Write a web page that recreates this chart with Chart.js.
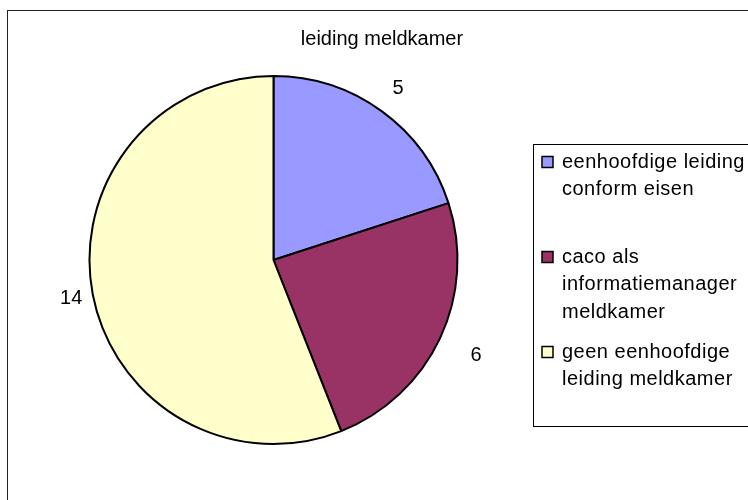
<!DOCTYPE html>
<html>
<head>
<meta charset="utf-8">
<script src="https://cdn.jsdelivr.net/npm/chart.js@4.4.0/dist/chart.umd.min.js"></script>
<style>
  html, body { margin: 0; padding: 0; background: #fff; width: 748px; height: 500px; overflow: hidden; }
  #frame { position: absolute; left: 7px; top: 10px; width: 748px; height: 500px; border: 1px solid #222; }
</style>
</head>
<body>
<div id="frame"><canvas id="mycanvas" width="748" height="500"></canvas></div>
<script>
var title = 'leiding meldkamer';
var labels = [
	['eenhoofdige leiding', 'conform eisen'],
	['caco als', 'informatiemanager', 'meldkamer'],
	['geen eenhoofdige', 'leiding meldkamer']
];
var values = [5, 6, 14];
var colors = ['#9999FF', '#993366', '#FFFFCC'];

var font = '20px "Liberation Sans", Arial, sans-serif';
// distance of each value label outside the pie edge (Excel "outside end")
var labelGap = [28, 40, 22];

// title, value labels and the boxed legend, drawn like the Excel original
var excelBits = {
	id: 'excelBits',
	afterDraw: function(chart) {
		var ctx = chart.ctx;
		ctx.save();
		ctx.font = font;
		ctx.fillStyle = '#000';
		ctx.textAlign = 'center';
		ctx.textBaseline = 'middle';
		ctx.fillText(title, chart.width / 2, 28);

		// value labels outside the slices
		var meta = chart.getDatasetMeta(0);
		meta.data.forEach(function(arc, i) {
			var p = arc.getProps(['x', 'y', 'startAngle', 'endAngle', 'outerRadius'], true);
			var mid = (p.startAngle + p.endAngle) / 2;
			var r = p.outerRadius + labelGap[i];
			ctx.fillText(String(chart.data.datasets[0].data[i]), p.x + Math.cos(mid) * r, p.y + Math.sin(mid) * r);
		});

		// legend box
		ctx.strokeStyle = '#000';
		ctx.lineWidth = 1;
		ctx.strokeRect(525.5, 133.5, 260, 282);
		ctx.textAlign = 'left';
		ctx.letterSpacing = '0.5px';
		chart.data.labels.forEach(function(lines, i) {
			var y = 151 + i * 95;
			ctx.fillStyle = chart.data.datasets[0].backgroundColor[i];
			ctx.fillRect(534, y - 5.5, 11, 11);
			ctx.lineWidth = 1.5;
			ctx.strokeRect(534, y - 5.5, 11, 11);
			ctx.fillStyle = '#000';
			lines.forEach(function(line, j) {
				ctx.fillText(line, 554, y + j * 27.5);
			});
		});
		ctx.restore();
	}
};

var ctx = document.getElementById('mycanvas');
var pieChart = new Chart(ctx, {
	type: 'pie',
	data: {
		labels: labels,
		datasets: [{
			data: values,
			backgroundColor: colors,
			borderColor: '#000',
			borderWidth: 2
		}]
	},
	options: {
		responsive: false,
		animation: false,
		devicePixelRatio: 1,
		layout: { padding: { left: 79, top: 64, right: 296, bottom: 66 } },
		plugins: {
			legend: { display: false },
			tooltip: { enabled: false }
		}
	},
	plugins: [excelBits]
});
</script>
</body>
</html>
